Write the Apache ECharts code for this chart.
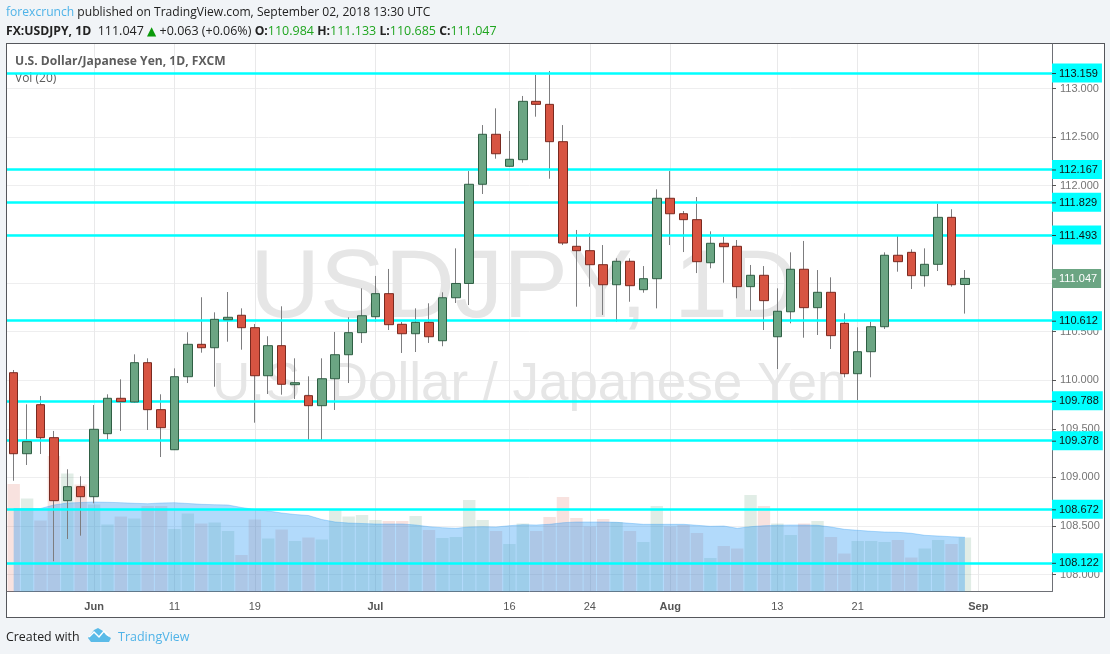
<!DOCTYPE html>
<html>
<head>
<meta charset="utf-8">
<title>USDJPY</title>
<script src="https://cdn.jsdelivr.net/npm/echarts@6/dist/echarts.min.js"></script>
<style>
	html, body { margin: 0; padding: 0; background: #f1f4f7; }
	#frame { position: absolute; left: 6px; top: 43px; width: 1097px; height: 573px; background: #fff; border: 1px solid #55575c; }
	#chart { position: absolute; left: 0; top: 0; width: 1110px; height: 654px; }
</style>
</head>
<body>
<div id="frame"></div>
<div id="chart"></div>
<script>
'use strict';

// daily sessions, May 24 - Aug 31 2018, then the empty days on the right of the chart
var dates = [
	'May 24','May 25','May 28','May 29','May 30','May 31','Jun 1','Jun 4','Jun 5','Jun 6','Jun 7','Jun 8',
	'Jun 11','Jun 12','Jun 13','Jun 14','Jun 15','Jun 18','Jun 19','Jun 20','Jun 21','Jun 22','Jun 25','Jun 26',
	'Jun 27','Jun 28','Jun 29','Jul 2','Jul 3','Jul 4','Jul 5','Jul 6','Jul 9','Jul 10','Jul 11','Jul 12',
	'Jul 13','Jul 16','Jul 17','Jul 18','Jul 19','Jul 20','Jul 23','Jul 24','Jul 25','Jul 26','Jul 27','Jul 30',
	'Jul 31','Aug 1','Aug 2','Aug 3','Aug 6','Aug 7','Aug 8','Aug 9','Aug 10','Aug 13','Aug 14','Aug 15',
	'Aug 16','Aug 17','Aug 20','Aug 21','Aug 22','Aug 23','Aug 24','Aug 27','Aug 28','Aug 29','Aug 30','Aug 31',
	'Sep 3','Sep 4','Sep 5','Sep 6','Sep 7','Sep 10'
];

var opens = [
	110.077,109.244,109.748,109.409,108.761,108.905,108.802,109.450,109.814,109.776,110.180,109.697,
	109.285,110.036,110.369,110.334,110.622,110.668,110.540,110.046,110.355,109.954,109.841,109.738,
	110.015,110.262,110.489,110.653,110.890,110.575,110.478,110.595,110.406,110.848,110.995,112.015,
	112.529,112.200,112.268,112.868,112.837,112.453,111.377,111.332,111.188,110.982,111.223,110.931,
	111.044,111.871,111.712,111.651,111.208,111.408,111.377,110.962,111.079,110.447,110.704,111.141,
	110.746,110.904,110.585,110.067,110.293,110.550,111.285,111.315,111.075,111.192,111.675,110.984
];
var closes = [
	109.244,109.368,109.409,108.761,108.905,108.802,109.495,109.814,109.779,110.180,109.697,109.512,
	110.036,110.369,110.334,110.626,110.647,110.540,110.046,110.355,109.958,109.974,109.738,110.015,
	110.262,110.489,110.663,110.890,110.571,110.478,110.595,110.447,110.848,110.995,112.015,112.529,
	112.329,112.272,112.868,112.837,112.453,111.411,111.332,111.188,110.982,111.223,110.972,111.044,
	111.871,111.712,111.651,111.219,111.408,111.373,110.962,111.079,110.818,110.709,111.141,110.746,
	110.904,110.458,110.067,110.293,110.550,111.285,111.219,111.075,111.192,111.675,110.982,111.047
];
var lows = [
	108.966,109.128,109.241,108.138,108.367,108.401,108.734,109.388,109.478,109.766,109.488,109.210,
	109.282,109.971,110.283,109.933,110.396,110.314,109.563,109.858,109.851,109.807,109.385,109.385,
	109.694,109.971,110.383,110.599,110.516,110.280,110.290,110.383,110.349,110.794,110.773,111.915,
	112.278,112.198,112.237,112.710,112.072,111.390,110.756,110.962,110.671,110.602,110.807,110.900,
	110.739,111.390,111.318,111.102,111.151,111.003,110.842,110.715,110.516,110.115,110.585,110.437,
	110.465,110.321,110.030,109.796,110.030,110.527,111.116,110.938,110.962,111.123,110.962,110.685
];
var highs = [
	110.105,109.752,109.838,109.478,109.084,109.012,109.745,109.855,110.009,110.266,110.225,109.855,
	110.122,110.493,110.853,110.698,110.907,110.739,110.578,110.452,110.760,110.225,110.040,110.225,
	110.496,110.647,110.945,111.072,111.144,110.599,110.739,110.791,110.904,111.356,112.151,112.624,
	112.796,112.563,112.923,113.139,113.180,112.624,111.545,111.511,111.390,111.254,111.254,111.174,
	111.963,112.151,111.740,111.884,111.531,111.476,111.442,111.185,111.174,110.945,111.315,111.432,
	111.133,111.058,110.688,110.544,110.602,111.315,111.486,111.346,111.356,111.815,111.758,111.133
];

// volume and its 20 day average, no scale printed on the chart so these are relative units
var volumes = [
	107.5,93,71,135.5,118,107,87,67,75,73,85.5,85.5,
	62.5,78,68,69,60.5,36.5,72,53,62,50.5,54,52,
	81.5,75,76.5,71.5,70.5,70.5,75.5,61.5,53.5,54.5,91.5,71.5,
	60.5,47.5,68,60.5,74.5,94.5,73.5,65,72.5,69.5,60.5,49.5,
	85.5,65,66.5,58.5,33.5,45.5,43,96.5,85.5,68,56.5,68,
	70.5,54.5,38,50.5,50.5,49.5,51.5,34,43,51.5,47.5,54
];
var volumeAvg = [
	83,83,83,86.5,88.5,89,89.5,89.2,88.8,88.2,87.8,88.5,
	88.8,88,87.2,86.8,86.5,84,82,80.5,78.5,77,76,72,
	69.5,68.5,68,67.5,67.5,67.5,66.5,64.8,63.8,63.2,64.5,64.8,
	64.5,65.8,66.8,66.5,67.2,68.8,69.5,69.5,69.5,69.2,68.2,67.2,
	67.2,67.2,67.2,66.2,65.2,65.5,63.2,64.8,65.8,66.3,66.5,66.5,
	66.2,64.5,62.2,61.2,60.2,59.5,59.2,58.2,56.2,55.5,54.8,54.2
];

var levels = [113.159, 112.167, 111.829, 111.493, 110.612, 109.788, 109.378, 108.672, 108.122];
var lastPrice = 111.047;

var priceTicks = [108, 108.5, 109, 109.5, 110, 110.5, 111, 111.5, 112, 112.5, 113];
// 111 and 111.5 sit under the price boxes, the original leaves them out
var priceLabels = [108, 108.5, 109, 109.5, 110, 110.5, 112, 112.5, 113];
var timeTicks = { 'Jun 1': 'Jun', 'Jun 11': '11', 'Jun 19': '19', 'Jul 2': 'Jul', 'Jul 16': '16', 'Jul 24': '24', 'Aug 1': 'Aug', 'Aug 13': '13', 'Aug 21': '21', 'Sep 3': 'Sep' };

var UP = '#6ba583', DOWN = '#d75442';
var HEAD_FONT = '"Open Sans", "Noto Sans", sans-serif';
var AXIS_FONT = '"Liberation Sans", Arial, sans-serif';

function onTimeTick(index, name) {
	return name in timeTicks;
}

// one row per candle, wick series first and the bodies on top of it
var wicks = opens.map(function(o, i) {
	return [o, closes[i], lows[i], highs[i]];
});
var bodies = opens.map(function(o, i) {
	return [o, closes[i], Math.min(o, closes[i]), Math.max(o, closes[i])];
});
var volumeBars = volumes.map(function(v, i) {
	return {
		value: v,
		itemStyle: { color: closes[i] >= opens[i] ? 'rgba(107,165,131,0.2)' : 'rgba(215,84,66,0.17)' }
	};
});

function levelLabel(value, bg, fg) {
	return {
		show: true,
		position: 'end',
		distance: 0,
		formatter: '{t| }{v|' + value.toFixed(3) + '}',
		backgroundColor: bg,
		padding: [4, 4, 3, 0],
		rich: {
			t: { width: 4, height: 1, backgroundColor: fg === '#fff' ? '#fff' : '#333', lineHeight: 12 },
			v: { color: fg, fontFamily: AXIS_FONT, fontSize: 11, padding: [0, 0, 0, 3], lineHeight: 12 }
		}
	};
}

var levelLines = levels.map(function(v) {
	return { yAxis: v, label: levelLabel(v, '#00ffff', '#111') };
});
levelLines.push({
	yAxis: lastPrice,
	lineStyle: { color: 'transparent', width: 0 },
	label: levelLabel(lastPrice, UP, '#fff')
});

var chart = echarts.init(document.getElementById('chart'), null, { renderer: 'canvas' });

chart.setOption({
	backgroundColor: 'transparent',
	animation: false,
	grid: { left: 7, right: 58, top: 44, bottom: 62.5 },
	xAxis: {
		type: 'category',
		data: dates,
		boundaryGap: true,
		axisLine: { lineStyle: { color: '#6e7076' } },
		axisTick: { interval: onTimeTick, alignWithLabel: true, length: 4, lineStyle: { color: '#555' } },
		splitLine: { show: true, interval: onTimeTick, alignWithLabel: true, lineStyle: { color: '#e9e9ea' } },
		axisLabel: {
			interval: onTimeTick,
			margin: 10,
			fontFamily: AXIS_FONT,
			fontSize: 11,
			color: '#555',
			formatter: function(name) {
				var text = timeTicks[name];
				return /^[A-Z]/.test(text) ? '{m|' + text + '}' : text;
			},
			rich: { m: { fontWeight: 'bold', fontFamily: AXIS_FONT, fontSize: 11, color: '#555' } }
		}
	},
	yAxis: [{
		type: 'value',
		position: 'right',
		min: 107.827,
		max: 113.4576,
		axisLine: { show: true, lineStyle: { color: '#6e7076' } },
		axisTick: { show: true, customValues: priceTicks, length: 4, lineStyle: { color: '#555' } },
		splitLine: { show: true, lineStyle: { color: '#eeeeef' } },
		axisLabel: {
			customValues: priceLabels,
			margin: 8,
			padding: [5, 0, 0, 0],
			fontFamily: AXIS_FONT,
			fontSize: 11,
			color: '#757575',
			formatter: function(v) { return v.toFixed(3); }
		}
	}, {
		type: 'value',
		min: 0,
		max: 547.5,
		show: false
	}],
	series: [{
		name: 'Volume',
		type: 'bar',
		yAxisIndex: 1,
		barWidth: 12.4,
		silent: true,
		data: volumeBars,
		z: 2
	}, {
		name: 'Vol (20)',
		type: 'line',
		yAxisIndex: 1,
		showSymbol: false,
		silent: true,
		data: volumeAvg,
		lineStyle: { color: 'rgba(33,150,243,0.3)', width: 1 },
		areaStyle: { color: 'rgba(33,150,243,0.35)', opacity: 1 },
		z: 3
	}, {
		name: 'wicks',
		type: 'candlestick',
		barWidth: 1,
		silent: true,
		data: wicks,
		itemStyle: { color: '#7d7d7f', color0: '#7d7d7f', borderColor: '#7d7d7f', borderColor0: '#7d7d7f', borderWidth: 1 },
		z: 4
	}, {
		name: 'USDJPY',
		type: 'candlestick',
		barWidth: 9,
		silent: true,
		data: bodies,
		itemStyle: { color: UP, color0: DOWN, borderColor: '#2f5f44', borderColor0: '#7a2a20', borderWidth: 1 },
		markLine: {
			silent: true,
			symbol: 'none',
			animation: false,
			precision: 3,
			lineStyle: { color: '#00ffff', width: 2.5, type: 'solid' },
			data: levelLines
		},
		z: 5
	}],
	graphic: [
		// header lines
		{
			type: 'text', left: 6, top: 7, silent: true,
			style: {
				text: '{a|forexcrunch}{b| published on TradingView.com, September 02, 2018 13:30 UTC}',
				rich: {
					a: { fill: '#4fb3e8', font: '12.1px ' + HEAD_FONT },
					b: { fill: '#222', font: '12.1px ' + HEAD_FONT }
				}
			}
		},
		{
			type: 'text', left: 6, top: 25, silent: true,
			style: {
				text: '{k|FX:USDJPY, 1D}{b|  111.047 }{g|\u25B2}{b| +0.063 (+0.06%) }{k|O:}{n|110.984 }{k|H:}{n|111.133 }{k|L:}{n|110.685 }{k|C:}{n|111.047}',
				rich: {
					k: { fill: '#222', font: 'bold 12.2px ' + HEAD_FONT },
					b: { fill: '#222', font: '12.5px ' + HEAD_FONT },
					g: { fill: '#0a9a0a', font: '12px "DejaVu Sans"' },
					n: { fill: '#1fa51f', font: '12.5px ' + HEAD_FONT }
				}
			}
		},
		// pane titles
		{
			type: 'text', left: 15, top: 56, silent: true,
			style: { text: 'U.S. Dollar/Japanese Yen, 1D, FXCM', fill: '#5d5d5d', font: 'bold 12.1px ' + HEAD_FONT }
		},
		{
			type: 'text', left: 15, top: 73, silent: true,
			style: { text: 'Vol (20)', fill: '#5d5d5d', font: '12px ' + HEAD_FONT }
		},
		// watermark
		{
			type: 'text', left: 250, top: 242, silent: true, z: 1,
			style: { text: 'USDJPY, 1D', fill: '#e6e6e6', font: '97px ' + AXIS_FONT }
		},
		{
			type: 'text', left: 212, top: 359, silent: true, z: 1,
			style: { text: 'U.S. Dollar / Japanese Yen', fill: '#e6e6e6', font: '53px ' + AXIS_FONT }
		},
		// footer
		{
			type: 'text', left: 6, top: 631, silent: true,
			style: { text: 'Created with', fill: '#222', font: '12.4px ' + HEAD_FONT }
		},
		{
			type: 'text', left: 118, top: 631, silent: true,
			style: { text: 'TradingView', fill: '#4fb3e8', font: '12.5px ' + HEAD_FONT }
		},
		{
			type: 'polygon', silent: true,
			shape: { points: [[88, 638], [94, 630], [98, 628], [103, 631], [106, 635], [111, 638], [109, 642], [91, 642]] },
			style: { fill: '#5bbbe8' }
		},
		{
			type: 'polyline', silent: true,
			shape: { points: [[89, 637], [94, 632], [99, 637], [104, 631], [109, 636]] },
			style: { stroke: '#fff', lineWidth: 1.5, fill: null }
		}
	]
});
</script>
</body>
</html>
